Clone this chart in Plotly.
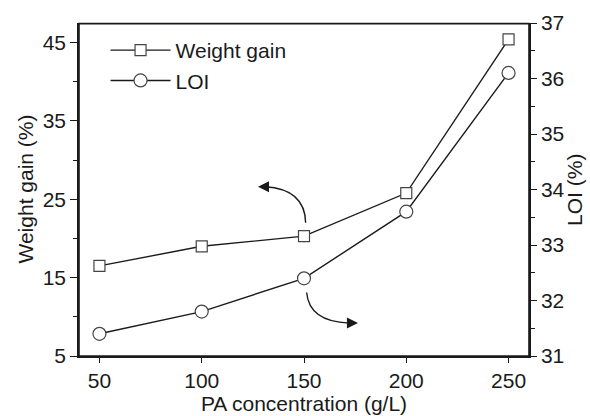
import plotly.graph_objects as go

pa_conc = [50, 100, 150, 200, 250]
weight_gain = [16.5, 19.0, 20.3, 25.8, 45.4]
loi = [31.4, 31.8, 32.4, 33.6, 36.1]

left_ticks = [5, 15, 25, 35, 45]
right_ticks = [31, 32, 33, 34, 35, 36, 37]
x_ticks = [50, 100, 150, 200, 250]

FONT = "Liberation Sans, Arial, sans-serif"
INK = "#1a1a1a"

fig = go.Figure()
fig.add_trace(go.Scatter(
    x=pa_conc, y=weight_gain, name="Weight gain", mode="lines+markers",
    line=dict(color=INK, width=1.4),
    marker=dict(symbol="square", size=11, color="white", line=dict(color="#444", width=1.2)),
    yaxis="y"))
fig.add_trace(go.Scatter(
    x=pa_conc, y=loi, name="LOI", mode="lines+markers",
    line=dict(color=INK, width=1.4),
    marker=dict(symbol="circle", size=13, color="white", line=dict(color="#444", width=1.2)),
    yaxis="y2"))

# frame around the plot area
fig.add_shape(type="rect", xref="paper", yref="paper", x0=0, x1=1, y0=0, y1=0.998,
              line=dict(color=INK, width=1.6), fillcolor="rgba(0,0,0,0)", layer="above")

# curved arrows (data coordinates of left y axis)
fig.add_shape(type="path", xref="x", yref="y",
              path="M 150.8,22.0 Q 150.5,26.3 131,26.6",
              line=dict(color=INK, width=1.4))
fig.add_shape(type="path", xref="x", yref="y",
              path="M 151.3,13.1 Q 152.5,9.4 172,9.2",
              line=dict(color=INK, width=1.4))
fig.add_annotation(x=127.5, y=26.6, xref="x", yref="y", ax=11, ay=0, text="",
                   showarrow=True, arrowhead=2, arrowsize=1.7, arrowwidth=1.3, arrowcolor=INK)
fig.add_annotation(x=176.4, y=9.2, xref="x", yref="y", ax=-11, ay=0, text="",
                   showarrow=True, arrowhead=2, arrowsize=1.7, arrowwidth=1.3, arrowcolor=INK)

# y-axis titles as positioned annotations
fig.add_annotation(x=-0.12, y=0.5, xref="paper", yref="paper", text="Weight gain (%)",
                   textangle=-90, showarrow=False, xanchor="center", yanchor="middle",
                   font=dict(family=FONT, size=21, color=INK))
fig.add_annotation(x=1.101, y=0.5, xref="paper", yref="paper", text="LOI (%)",
                   textangle=-90, showarrow=False, xanchor="center", yanchor="middle",
                   font=dict(family=FONT, size=21, color=INK))

axis_common = dict(showline=True, linecolor=INK, linewidth=1.5, ticks="outside",
                   tickcolor=INK, tickwidth=1.3, showgrid=False, zeroline=False,
                   automargin=False,
                   tickfont=dict(family=FONT, size=21, color=INK),
                   title_font=dict(family=FONT, size=21, color=INK))

fig.update_layout(
    width=590, height=416,
    margin=dict(l=79, r=61, t=23, b=60, autoexpand=False),
    paper_bgcolor="white", plot_bgcolor="white",
    xaxis=dict(range=[40, 260], tickvals=x_ticks, ticklen=5,
               title=dict(text="PA concentration (g/L)", standoff=4), **axis_common),
    yaxis=dict(range=[5, 47.5], tickvals=left_ticks, ticklen=7,
               minor=dict(tickvals=[10, 20, 30, 40], ticklen=4, tickcolor=INK, tickwidth=1.3),
               **axis_common),
    yaxis2=dict(range=[31, 37], tickvals=right_ticks, ticklen=6, overlaying="y", side="right",
                minor=dict(tickvals=[31.5, 32.5, 33.5, 34.5, 35.5, 36.5], ticklen=4, tickcolor=INK, tickwidth=1.3),
                **axis_common),
    legend=dict(x=0.059, y=0.979, xanchor="left", yanchor="top", bgcolor="rgba(0,0,0,0)",
                font=dict(family=FONT, size=21, color=INK), itemwidth=60, tracegroupgap=0),
    showlegend=True,
)

fig.write_html("out.html", config={"displayModeBar": False},
               post_script="document.body.style.margin='0px';")
